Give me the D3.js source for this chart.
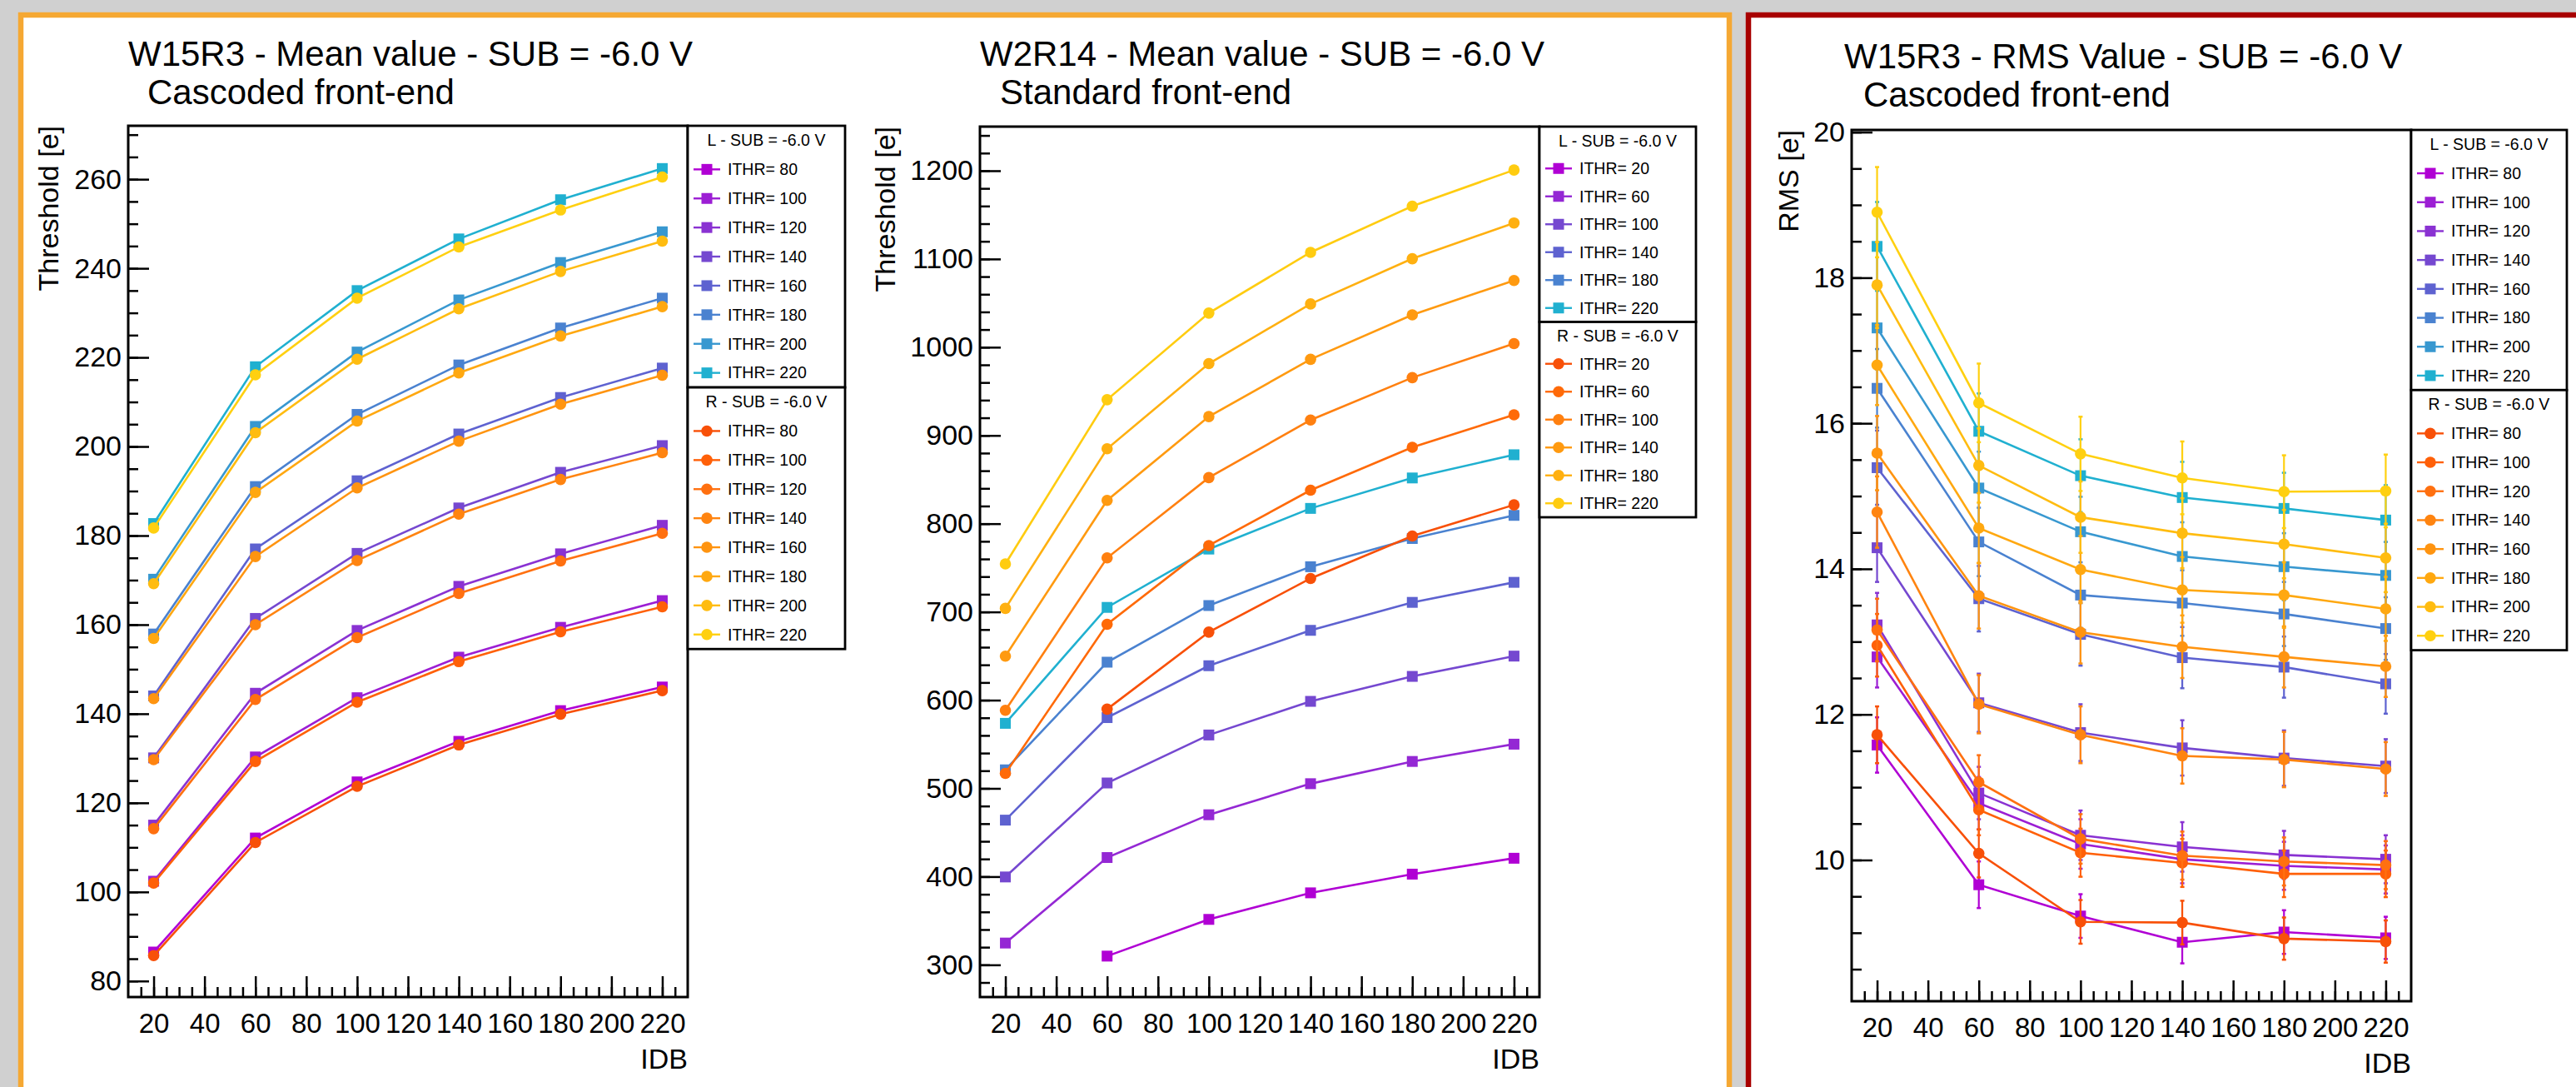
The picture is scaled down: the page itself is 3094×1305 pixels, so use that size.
<!DOCTYPE html>
<html>
<head>
<meta charset="utf-8">
<script src="https://cdn.jsdelivr.net/npm/d3@7"></script>
<style>
  body { margin: 0; background: #d0d0d0; }
  svg { display: block; font-family: "Liberation Sans", Arial, Helvetica, sans-serif; }
</style>
</head>
<body>
<script>
// x values (IDB) shared by every graph
var idb = [20, 60, 100, 140, 180, 220];
var ithrCasc = [80, 100, 120, 140, 160, 180, 200, 220];
var ithrStd = [20, 60, 100, 140, 180, 220];

// W15R3 mean threshold, cascoded front-end (one row per ITHR)
var w15MeanL = [
  [86.5, 112.1, 124.7, 133.8, 140.7, 146.0],
  [102.4, 130.3, 143.6, 152.7, 159.4, 165.4],
  [115.0, 144.6, 158.7, 168.6, 175.9, 182.3],
  [130.1, 161.4, 176.0, 186.2, 194.2, 200.2],
  [144.0, 177.0, 192.3, 202.8, 211.0, 217.6],
  [157.9, 191.0, 207.2, 218.3, 226.6, 233.3],
  [170.2, 204.5, 221.2, 232.9, 241.3, 248.2],
  [182.7, 217.9, 235.0, 246.6, 255.4, 262.4]
];
var w15MeanR = [
  [85.7, 111.1, 123.7, 133.0, 139.9, 145.2],
  [102.0, 129.3, 142.6, 151.7, 158.4, 164.0],
  [114.2, 143.2, 157.1, 167.0, 174.3, 180.5],
  [129.7, 160.0, 174.4, 184.8, 192.6, 198.6],
  [143.4, 175.3, 190.7, 201.2, 209.5, 216.0],
  [156.9, 189.7, 205.7, 216.5, 224.8, 231.4],
  [169.2, 203.1, 219.6, 230.9, 239.3, 246.1],
  [181.7, 216.1, 233.3, 244.8, 253.1, 260.5]
];

// W2R14 mean threshold, standard front-end
var w2MeanL = [
  [null, 309.9, 351.5, 381.6, 402.8, 420.8],
  [324.7, 421.6, 470.1, 505.3, 530.5, 550.1],
  [399.6, 506.1, 560.5, 598.6, 626.9, 649.9],
  [464.0, 580.2, 639.0, 679.1, 710.8, 733.5],
  [521.0, 643.0, 707.2, 751.2, 783.2, 809.4],
  [573.7, 705.1, 771.2, 817.3, 851.8, 878.1]
];
var w2MeanR = [
  [null, 589.8, 677.1, 737.9, 786.0, 821.3],
  [517.0, 686.0, 775.2, 837.9, 886.5, 923.4],
  [588.5, 761.2, 852.2, 917.5, 965.5, 1004.1],
  [649.9, 826.4, 921.4, 986.3, 1036.6, 1075.6],
  [704.0, 884.9, 981.4, 1049.0, 1100.3, 1140.8],
  [754.4, 940.5, 1038.7, 1107.5, 1159.9, 1200.8]
];

// W15R3 RMS, cascoded front-end, with errors
var w15RmsL = [
  [11.58, 9.66, 9.23, 8.87, 9.01, 8.93],
  [12.79, 10.78, 10.22, 10.01, 9.92, 9.87],
  [13.23, 10.92, 10.34, 10.18, 10.07, 10.01],
  [14.29, 12.16, 11.75, 11.54, 11.40, 11.29],
  [15.39, 13.59, 13.10, 12.78, 12.65, 12.42],
  [16.48, 14.37, 13.64, 13.53, 13.38, 13.18],
  [17.31, 15.11, 14.51, 14.17, 14.03, 13.91],
  [18.43, 15.89, 15.28, 14.98, 14.83, 14.67]
];
var w15RmsErrL = [
  [0.38, 0.32, 0.30, 0.29, 0.30, 0.29],
  [0.42, 0.36, 0.34, 0.33, 0.33, 0.33],
  [0.44, 0.36, 0.34, 0.34, 0.33, 0.33],
  [0.47, 0.40, 0.39, 0.38, 0.38, 0.37],
  [0.51, 0.45, 0.43, 0.42, 0.42, 0.41],
  [0.54, 0.47, 0.45, 0.45, 0.44, 0.43],
  [0.57, 0.50, 0.48, 0.47, 0.46, 0.46],
  [0.61, 0.52, 0.50, 0.49, 0.49, 0.48]
];
var w15RmsR = [
  [11.72, 10.09, 9.15, 9.14, 8.92, 8.88],
  [12.95, 10.69, 10.10, 9.96, 9.81, 9.81],
  [13.16, 11.07, 10.29, 10.06, 9.98, 9.93],
  [14.78, 12.14, 11.72, 11.43, 11.38, 11.25],
  [15.59, 13.63, 13.13, 12.93, 12.79, 12.66],
  [16.80, 14.56, 13.99, 13.71, 13.64, 13.45],
  [17.90, 15.42, 14.71, 14.49, 14.34, 14.15],
  [18.90, 16.28, 15.58, 15.25, 15.06, 15.07]
];
var w15RmsErrR = [
  [0.39, 0.33, 0.30, 0.30, 0.29, 0.29],
  [0.43, 0.35, 0.33, 0.33, 0.32, 0.32],
  [0.43, 0.37, 0.34, 0.33, 0.33, 0.33],
  [0.49, 0.40, 0.39, 0.38, 0.38, 0.37],
  [0.51, 0.45, 0.43, 0.43, 0.42, 0.42],
  [0.55, 0.48, 0.46, 0.45, 0.45, 0.44],
  [0.59, 0.51, 0.49, 0.48, 0.47, 0.47],
  [0.62, 0.54, 0.51, 0.50, 0.50, 0.50]
];

// colours
var colCascL = ['#b000d4', '#9c1ed4', '#8a32d2', '#7548d0', '#5e62d0', '#4a82d0', '#3898d0', '#20b0d0'];
var colCascR = ['#f85008', '#ff6008', '#ff7010', '#ff8410', '#ff9410', '#ffa810', '#ffbc10', '#ffd010'];
var colStdL = ['#b000d4', '#9428d4', '#7548d0', '#5e62d0', '#4a82d0', '#20b0d0'];
var colStdR = ['#f85008', '#ff6a08', '#ff8010', '#ff9a10', '#ffb010', '#ffcc10'];

var W = 3094, H = 1305;
var svg = d3.select('body').append('svg').attr('width', W).attr('height', H);

svg.append('rect').attr('width', W).attr('height', H).attr('fill', '#d0d0d0');
// pad borders
svg.append('rect').attr('x', 25).attr('y', 18).attr('width', 2052).attr('height', 1400)
  .attr('fill', '#fff').attr('stroke', '#f5a833').attr('stroke-width', 6.5);
svg.append('rect').attr('x', 2100).attr('y', 18).attr('width', 1100).attr('height', 1400)
  .attr('fill', '#fff').attr('stroke', '#a80000').attr('stroke-width', 6.5);

var panels = [
  {
    title: 'W15R3 - Mean value - SUB = -6.0 V', sub: 'Cascoded front-end',
    t1: [154, 79], t2: [177, 125],
    frame: {x0: 154, x1: 826, y0: 151, y1: 1197}, legX1: 1015, rowH: 34.9,
    yDomain: [76.4, 272], yMajor: d3.range(80, 261, 20), yMinor: d3.range(80, 272, 5),
    ytitle: 'Threshold [e]', ytX: 70,
    ithr: ithrCasc, L: w15MeanL, R: w15MeanR, cL: colCascL, cR: colCascR
  },
  {
    title: 'W2R14 - Mean value - SUB = -6.0 V', sub: 'Standard front-end',
    t1: [1177, 79], t2: [1201, 125],
    frame: {x0: 1177, x1: 1849, y0: 152, y1: 1197}, legX1: 2037, rowH: 33.5,
    yDomain: [263.5, 1250], yMajor: d3.range(300, 1201, 100), yMinor: d3.range(280, 1250, 20),
    ytitle: 'Threshold [e]', ytX: 1075,
    ithr: ithrStd, L: w2MeanL, R: w2MeanR, cL: colStdL, cR: colStdR
  },
  {
    title: 'W15R3 - RMS Value - SUB = -6.0 V', sub: 'Cascoded front-end',
    t1: [2215, 82], t2: [2238, 128],
    frame: {x0: 2224, x1: 2896, y0: 156, y1: 1202}, legX1: 3083, rowH: 34.7,
    yDomain: [8.06, 20.03], yMajor: d3.range(10, 20.01, 2), yMinor: d3.range(8.5, 20.01, 0.5),
    ytitle: 'RMS [e]', ytX: 2160,
    ithr: ithrCasc, L: w15RmsL, R: w15RmsR, eL: w15RmsErrL, eR: w15RmsErrR, cL: colCascL, cR: colCascR
  }
];

panels.forEach(function(p, pi) {
  var f = p.frame;
  var g = svg.append('g');
  var x = d3.scaleLinear().domain([10, 230]).range([f.x0, f.x1]);
  var y = d3.scaleLinear().domain(p.yDomain).range([f.y1, f.y0]);

  // titles
  g.append('text').attr('x', p.t1[0]).attr('y', p.t1[1]).attr('font-size', 42).text(p.title);
  g.append('text').attr('x', p.t2[0]).attr('y', p.t2[1]).attr('font-size', 42).text(p.sub);

  // clip
  var cid = 'clip' + pi;
  svg.append('clipPath').attr('id', cid).append('rect')
    .attr('x', f.x0).attr('y', f.y0).attr('width', f.x1 - f.x0).attr('height', f.y1 - f.y0);

  // axes, ticks inside the frame
  var yMinorAx = g.append('g').attr('transform', 'translate(' + f.x0 + ',0)')
    .call(d3.axisLeft(y).tickValues(p.yMinor).tickSizeInner(-12).tickSizeOuter(0).tickFormat(''));
  var yAx = g.append('g').attr('transform', 'translate(' + f.x0 + ',0)')
    .call(d3.axisLeft(y).tickValues(p.yMajor).tickSizeInner(-25).tickSizeOuter(0).tickPadding(8).tickFormat(d3.format('d')));
  var xMinorAx = g.append('g').attr('transform', 'translate(0,' + f.y1 + ')')
    .call(d3.axisBottom(x).tickValues(d3.range(15, 230, 5)).tickSizeInner(-12).tickSizeOuter(0).tickFormat(''));
  var xAx = g.append('g').attr('transform', 'translate(0,' + f.y1 + ')')
    .call(d3.axisBottom(x).tickValues(d3.range(20, 221, 20)).tickSizeInner(-25).tickSizeOuter(0).tickPadding(20));
  [yMinorAx, yAx, xMinorAx, xAx].forEach(function(a) {
    a.select('.domain').remove();
    a.selectAll('line').attr('stroke', '#000').attr('stroke-width', 2.5);
    a.attr('font-family', null);
  });
  yAx.selectAll('text').attr('font-size', 34).attr('fill', '#000');
  xAx.selectAll('text').attr('font-size', 33).attr('fill', '#000');

  g.append('text').attr('transform', 'translate(' + p.ytX + ',' + f.y0 + ') rotate(-90)')
    .attr('text-anchor', 'end').attr('font-size', 34).text(p.ytitle);
  g.append('text').attr('x', f.x1).attr('y', f.y1 + 86).attr('text-anchor', 'end')
    .attr('font-size', 34).text('IDB');

  // graphs
  var plot = g.append('g').attr('clip-path', 'url(#' + cid + ')');
  var line = d3.line().defined(function(d) { return d.v != null; })
    .x(function(d) { return x(d.x); }).y(function(d) { return y(d.v); });

  function drawSet(rows, errs, cols, shape) {
    rows.forEach(function(row, i) {
      var pts = row.map(function(v, k) { return {x: idb[k], v: v, e: errs ? errs[i][k] : 0}; });
      var ok = pts.filter(function(d) { return d.v != null; });
      var c = cols[i];
      var s = plot.append('g');
      s.append('path').datum(pts).attr('d', line).attr('fill', 'none')
        .attr('stroke', c).attr('stroke-width', 2.6);
      if (errs) {
        s.selectAll('line.eb').data(ok).enter().append('line')
          .attr('x1', function(d) { return x(d.x); }).attr('x2', function(d) { return x(d.x); })
          .attr('y1', function(d) { return y(d.v - d.e); }).attr('y2', function(d) { return y(d.v + d.e); })
          .attr('stroke', c).attr('stroke-width', 2.2);
        ['lo', 'hi'].forEach(function(side) {
          s.selectAll('line.cap' + side).data(ok).enter().append('line')
            .attr('x1', function(d) { return x(d.x) - 2.5; }).attr('x2', function(d) { return x(d.x) + 2.5; })
            .attr('y1', function(d) { return y(side === 'lo' ? d.v - d.e : d.v + d.e); })
            .attr('y2', function(d) { return y(side === 'lo' ? d.v - d.e : d.v + d.e); })
            .attr('stroke', c).attr('stroke-width', 2.5);
        });
      }
      if (shape === 'sq') {
        s.selectAll('rect').data(ok).enter().append('rect')
          .attr('x', function(d) { return x(d.x) - 6.5; }).attr('y', function(d) { return y(d.v) - 6.5; })
          .attr('width', 13).attr('height', 13).attr('fill', c);
      } else {
        s.selectAll('circle').data(ok).enter().append('circle')
          .attr('cx', function(d) { return x(d.x); }).attr('cy', function(d) { return y(d.v); })
          .attr('r', 6.8).attr('fill', c);
      }
    });
  }
  drawSet(p.L, p.eL, p.cL, 'sq');
  drawSet(p.R, p.eR, p.cR, 'ci');

  // frame
  g.append('rect').attr('x', f.x0).attr('y', f.y0).attr('width', f.x1 - f.x0).attr('height', f.y1 - f.y0)
    .attr('fill', 'none').attr('stroke', '#000').attr('stroke-width', 3);

  // legends
  function legend(top, head, cols, shape) {
    var n = p.ithr.length;
    var lg = g.append('g');
    lg.append('rect').attr('x', f.x1).attr('y', top).attr('width', p.legX1 - f.x1)
      .attr('height', p.rowH * (n + 1)).attr('fill', '#fff').attr('stroke', '#000').attr('stroke-width', 2.8);
    lg.append('text').attr('x', (f.x1 + p.legX1) / 2).attr('y', top + p.rowH / 2)
      .attr('dy', '0.35em').attr('text-anchor', 'middle').attr('font-size', 19.5).text(head);
    p.ithr.forEach(function(t, i) {
      var cy = top + p.rowH * (i + 1.5);
      var cx = f.x1 + 23;
      lg.append('line').attr('x1', cx - 16).attr('x2', cx + 16).attr('y1', cy).attr('y2', cy)
        .attr('stroke', cols[i]).attr('stroke-width', 2.4);
      if (shape === 'sq') {
        lg.append('rect').attr('x', cx - 6.5).attr('y', cy - 6.5).attr('width', 13).attr('height', 13).attr('fill', cols[i]);
      } else {
        lg.append('circle').attr('cx', cx).attr('cy', cy).attr('r', 6.8).attr('fill', cols[i]);
      }
      lg.append('text').attr('x', f.x1 + 48).attr('y', cy).attr('dy', '0.35em')
        .attr('font-size', 19.5).text('ITHR= ' + t);
    });
    return top + p.rowH * (n + 1);
  }
  var next = legend(f.y0, 'L - SUB = -6.0 V', p.cL, 'sq');
  legend(next, 'R - SUB = -6.0 V', p.cR, 'ci');
});
</script>
</body>
</html>
